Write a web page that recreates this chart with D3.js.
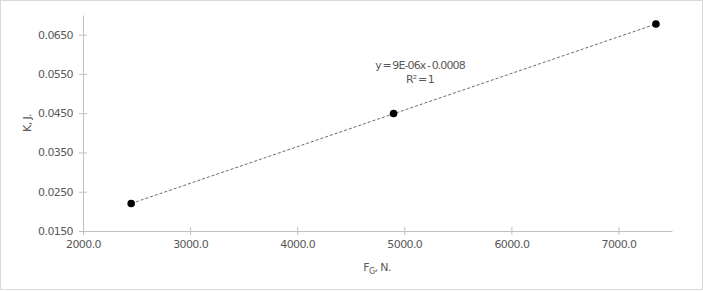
<!DOCTYPE html>
<html>
<head>
<meta charset="utf-8">
<script src="https://cdn.jsdelivr.net/npm/d3@7"></script>
<style>
  body { margin: 0; background: #fff; }
  text { font-family: "DejaVu Sans", sans-serif; fill: #595959; letter-spacing: -0.6px; }
</style>
</head>
<body>
<svg id="chart" width="703" height="291"></svg>
<script>
// data
const forceN = [2450, 4900, 7350];
const energyJ = [0.0220, 0.0449, 0.0677];
const xTicks = [2000, 3000, 4000, 5000, 6000, 7000];
const yTicks = [0.015, 0.025, 0.035, 0.045, 0.055, 0.065];
const eqLines = ["y = 9E-06x - 0.0008", "R² = 1"];

const svg = d3.select('#chart');
const margin = {left: 83, right: 31, top: 15, bottom: 60};
const W = 703, H = 291;

svg.append('rect')
    .attr('x', 0.5).attr('y', 0.5)
    .attr('width', W - 1).attr('height', H - 2)
    .style('fill', '#fff').style('stroke', '#d9d9d9');

const x = d3.scaleLinear().domain([2000, 7500]).range([margin.left, W - margin.right]);
const y = d3.scaleLinear().domain([0.015, 0.07]).range([H - margin.bottom, margin.top]);

// axes
const xAxis = svg.append('g')
    .attr('transform', `translate(0,${y(0.015)})`)
    .call(d3.axisBottom(x).tickValues(xTicks).tickFormat(d3.format('.1f')).tickSize(4).tickSizeOuter(0));
xAxis.selectAll('.tick line').attr('y1', -4);
xAxis.selectAll('.tick text').attr('dy', '0.95em').style('font-size', '11px');

const yAxis = svg.append('g')
    .attr('transform', `translate(${x(2000)},0)`)
    .call(d3.axisLeft(y).tickValues(yTicks).tickFormat(d3.format('.4f')).tickSize(4).tickSizeOuter(0));
yAxis.selectAll('.tick line').attr('x1', 4);
yAxis.selectAll('.tick text').attr('x', -10).style('font-size', '11px');

svg.selectAll('.domain').style('stroke', '#bfbfbf');
svg.selectAll('.tick line').style('stroke', '#bfbfbf');
svg.selectAll('.tick text').style('fill', '#595959');

// trendline
svg.append('line')
    .attr('x1', x(forceN[0])).attr('y1', y(energyJ[0]))
    .attr('x2', x(forceN[2])).attr('y2', y(energyJ[2]))
    .style('stroke', '#595959').style('stroke-width', 0.9)
    .style('stroke-dasharray', '3,2');

svg.selectAll('circle.pt')
    .data(forceN)
    .enter().append('circle')
    .attr('class', 'pt')
    .attr('cx', d => x(d))
    .attr('cy', (d, i) => y(energyJ[i]))
    .attr('r', 3.8)
    .style('fill', '#000');

// equation label
svg.selectAll('text.eq')
    .data(eqLines)
    .enter().append('text')
    .attr('class', 'eq')
    .attr('x', 420)
    .attr('y', (d, i) => 69 + i * 14)
    .attr('text-anchor', 'middle')
    .style('font-size', '11px')
    .style('letter-spacing', '-0.9px')
    .style('word-spacing', '-1px')
    .text(d => d);

// axis titles
const xt = svg.append('text')
    .attr('x', 377).attr('y', 271)
    .attr('text-anchor', 'middle')
    .style('font-size', '11px');
xt.append('tspan').text('F');
xt.append('tspan').attr('dy', 3).style('font-size', '8px').text('G');
xt.append('tspan').attr('dy', -3).text(', N.');

svg.append('text')
    .attr('transform', 'translate(31,123) rotate(-90)')
    .attr('text-anchor', 'middle')
    .style('font-size', '11px')
    .text('K, J.');
</script>
</body>
</html>
